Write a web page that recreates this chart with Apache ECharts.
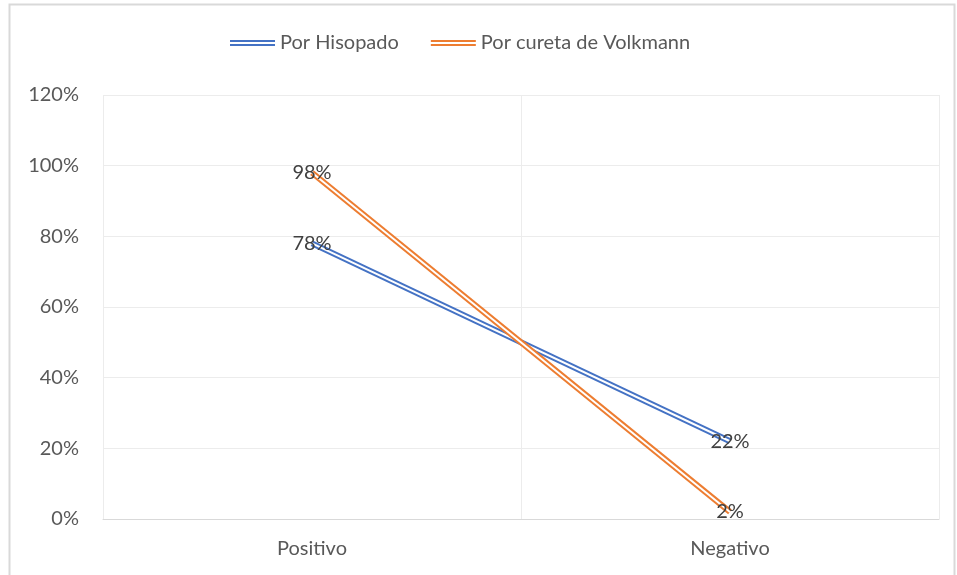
<!DOCTYPE html>
<html>
<head>
<meta charset="utf-8">
<script src="https://cdn.jsdelivr.net/npm/echarts@6/dist/echarts.min.js"></script>
<style>
  html, body { margin: 0; padding: 0; background: #fff; }
  #chart-container { width: 957px; height: 575px; }
</style>
</head>
<body>
<div id="chart-container"></div>
<script>
var categories = ["Positivo", "Negativo"];
var hisopado = [0.78, 0.22];
var volkmann = [0.98, 0.02];

var FONT = "Lato";
var BLUE = "#4472C4";
var ORANGE = "#ED7D31";
var doubleIcon = "path://M0,0H45V2H0Z M0,4H45V6H0Z";

var dom = document.getElementById("chart-container");
var myChart = echarts.init(dom, null, { renderer: "canvas" });

function pct(v) {
  return Math.round(v * 100) + "%";
}

// outer thick line + thin white line on top = excel "double" line
function doubleLine(name, data, color) {
  return [
    {
      name: name,
      type: "line",
      data: data,
      symbol: "circle",
      symbolSize: 0,
      showSymbol: true,
      color: color,
      z: 2,
      lineStyle: { width: 6, color: color },
      label: {
        show: true,
        position: "inside",
        formatter: function (p) { return pct(p.value); },
        fontFamily: FONT,
        fontSize: 20,
        color: "#404040"
      },
      emphasis: { disabled: true }
    },
    {
      name: name + "-inner",
      type: "line",
      data: data,
      showSymbol: false,
      silent: true,
      z: 2,
      lineStyle: { width: 2, color: "#ffffff" },
      emphasis: { disabled: true }
    }
  ];
}

var option = {
  animation: false,
  textStyle: { fontFamily: FONT },
  graphic: [
    {
      type: "rect",
      shape: { x: 9.5, y: 4.5, width: 945, height: 600 },
      style: { fill: "none", stroke: "#d9d9d9", lineWidth: 2 },
      silent: true
    }
  ],
  legend: {
    top: 33,
    left: 230,
    padding: 0,
    itemWidth: 45,
    itemHeight: 6,
    itemGap: 32,
    data: [
      { name: "Por Hisopado", icon: doubleIcon },
      { name: "Por cureta de Volkmann", icon: doubleIcon }
    ],
    textStyle: { fontFamily: FONT, fontSize: 20, color: "#595959" }
  },
  grid: { left: 103, right: 18, top: 95, bottom: 56 },
  xAxis: {
    type: "category",
    data: categories,
    boundaryGap: true,
    axisLine: { lineStyle: { color: "#d9d9d9", width: 1 } },
    axisTick: { show: false },
    axisLabel: { fontFamily: FONT, fontSize: 20, color: "#595959", margin: 20 },
    splitLine: { show: true, lineStyle: { color: "#ececec", width: 1 } }
  },
  yAxis: {
    type: "value",
    min: 0,
    max: 1.2,
    interval: 0.2,
    axisLine: { show: false },
    axisTick: { show: false },
    axisLabel: {
      fontFamily: FONT,
      fontSize: 20,
      color: "#595959",
      margin: 24,
      formatter: function (v) { return pct(v); }
    },
    splitLine: { lineStyle: { color: "#ececec", width: 1 } }
  },
  series: [].concat(
    doubleLine("Por Hisopado", hisopado, BLUE),
    doubleLine("Por cureta de Volkmann", volkmann, ORANGE)
  )
};

myChart.setOption(option);
window.addEventListener("resize", myChart.resize);
</script>
</body>
</html>
